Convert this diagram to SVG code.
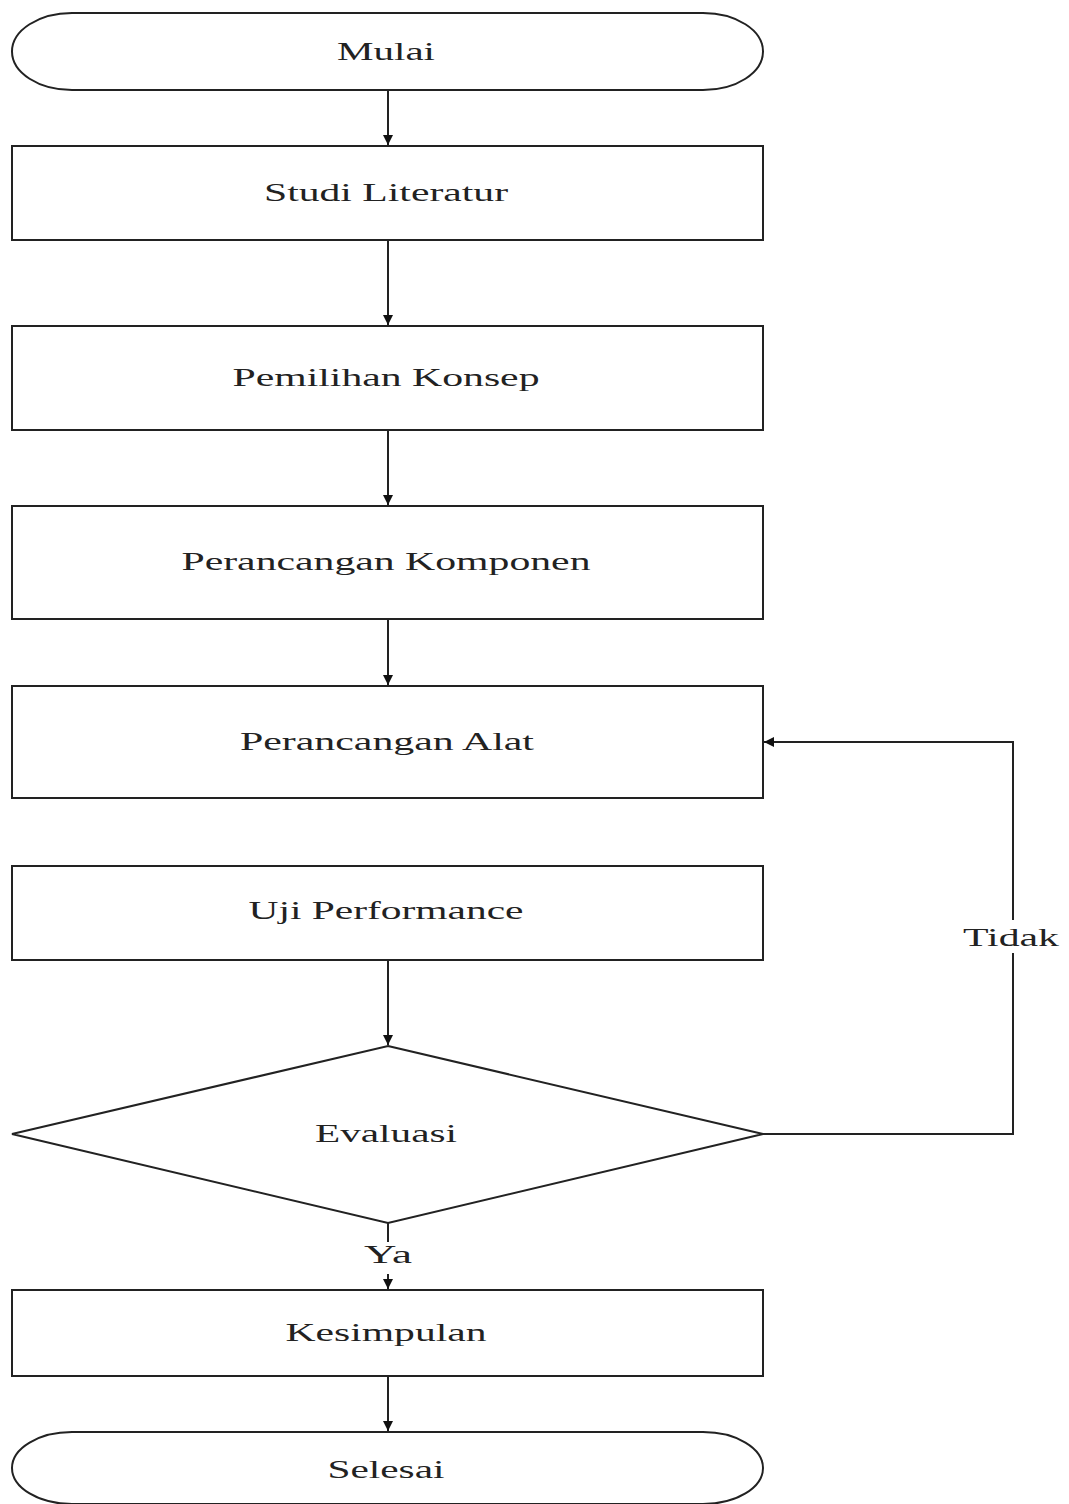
<svg xmlns="http://www.w3.org/2000/svg" width="1069" height="1504" viewBox="0 0 1069 1504">
<style>
.s{fill:#fff;stroke:#222;stroke-width:2}
.c{fill:none;stroke:#222;stroke-width:2}
text{font-family:"Liberation Serif","Times New Roman",serif;font-size:26px;fill:#222;text-anchor:middle}
</style>
<defs>
<marker id="a" viewBox="0 0 10 10" refX="10" refY="5" markerWidth="10" markerHeight="10" markerUnits="userSpaceOnUse" orient="auto">
<path d="M0,0 L10,5 L0,10 z" fill="#111"/>
</marker>
</defs>
<rect width="1069" height="1504" fill="#fff"/>
<g id="connectors">
<line class="c" x1="388" y1="90" x2="388" y2="145" marker-end="url(#a)"/>
<line class="c" x1="388" y1="240" x2="388" y2="325" marker-end="url(#a)"/>
<line class="c" x1="388" y1="430" x2="388" y2="505" marker-end="url(#a)"/>
<line class="c" x1="388" y1="619" x2="388" y2="685" marker-end="url(#a)"/>
<line class="c" x1="388" y1="960" x2="388" y2="1045" marker-end="url(#a)"/>
<line class="c" x1="388" y1="1223" x2="388" y2="1242"/>
<line class="c" x1="388" y1="1274" x2="388" y2="1289" marker-end="url(#a)"/>
<line class="c" x1="388" y1="1376" x2="388" y2="1431" marker-end="url(#a)"/>
<polyline class="c" points="763,1134 1013,1134 1013,953"/>
<polyline class="c" points="1013,920 1013,742 764,742" marker-end="url(#a)"/>
<text x="388" y="1263" textLength="48" lengthAdjust="spacingAndGlyphs">Ya</text>
<text x="1011" y="946" textLength="96" lengthAdjust="spacingAndGlyphs">Tidak</text>
</g>
<g id="mulai">
<rect class="s" x="12" y="13" width="751" height="77" rx="60" ry="38.5"/>
<text x="386" y="60" textLength="98" lengthAdjust="spacingAndGlyphs">Mulai</text>
</g>
<g id="studi">
<rect class="s" x="12" y="146" width="751" height="94"/>
<text x="386" y="201" textLength="244" lengthAdjust="spacingAndGlyphs">Studi Literatur</text>
</g>
<g id="pemilihan">
<rect class="s" x="12" y="326" width="751" height="104"/>
<text x="386" y="386" textLength="307" lengthAdjust="spacingAndGlyphs">Pemilihan Konsep</text>
</g>
<g id="komponen">
<rect class="s" x="12" y="506" width="751" height="113"/>
<text x="386" y="570" textLength="409" lengthAdjust="spacingAndGlyphs">Perancangan Komponen</text>
</g>
<g id="alat">
<rect class="s" x="12" y="686" width="751" height="112"/>
<text x="387" y="750" textLength="294" lengthAdjust="spacingAndGlyphs">Perancangan Alat</text>
</g>
<g id="uji">
<rect class="s" x="12" y="866" width="751" height="94"/>
<text x="386" y="919" textLength="275" lengthAdjust="spacingAndGlyphs">Uji Performance</text>
</g>
<g id="evaluasi">
<polygon class="s" points="388,1046 763,1134 388,1223 12,1134"/>
<text x="386" y="1142" textLength="142" lengthAdjust="spacingAndGlyphs">Evaluasi</text>
</g>
<g id="kesimpulan">
<rect class="s" x="12" y="1290" width="751" height="86"/>
<text x="386" y="1341" textLength="201" lengthAdjust="spacingAndGlyphs">Kesimpulan</text>
</g>
<g id="selesai">
<rect class="s" x="12" y="1432" width="751" height="72" rx="60" ry="36"/>
<text x="386" y="1478" textLength="117" lengthAdjust="spacingAndGlyphs">Selesai</text>
</g>
</svg>
